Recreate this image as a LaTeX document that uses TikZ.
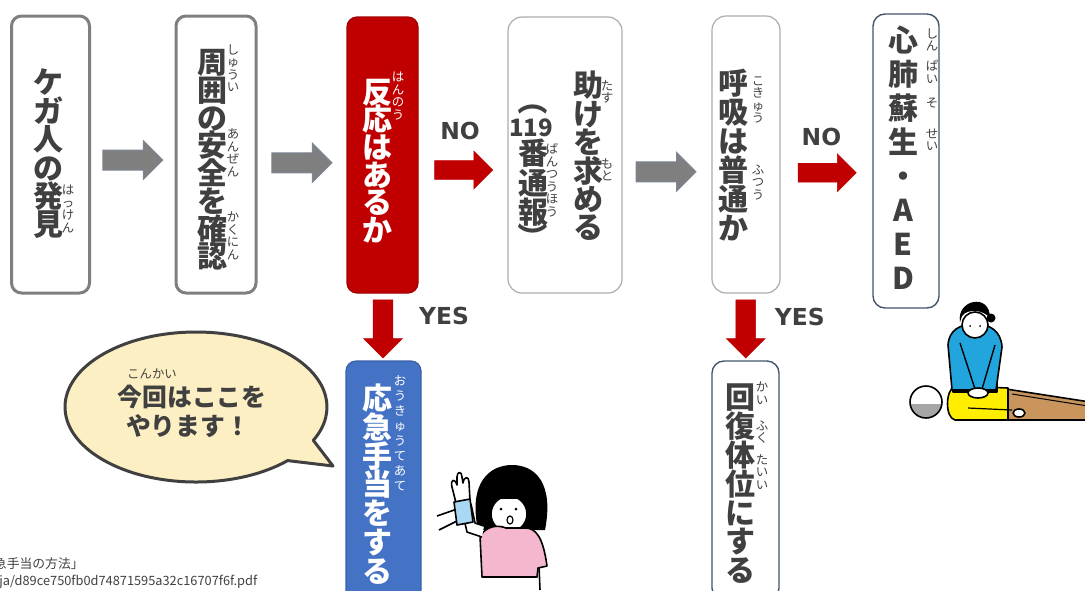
\documentclass[tikz,border=0pt]{standalone}
\usepackage{fontspec}
\usepackage{tikz}
\usetikzlibrary{calc,shapes.arrows}

\setmainfont{Noto Sans CJK JP}
\newfontfamily\tate{Noto Sans CJK JP}
\newfontfamily\yoko{Noto Sans CJK JP}
\newfontfamily\ansfont{DejaVu Sans}

% vertical text: one glyph per line, fixed pitch
\newcommand{\tatefont}[1]{\tate\bfseries\fontsize{15}{#1}\selectfont\lineskiplimit=-50pt}
\newcommand{\rubyfont}[1]{\tate\fontsize{6.2}{#1}\selectfont\lineskiplimit=-50pt}

\definecolor{ink}{HTML}{404040}
\definecolor{frame}{HTML}{7F7F7F}
\definecolor{alert}{HTML}{C00000}
\definecolor{aid}{HTML}{4472C4}
\definecolor{slate}{HTML}{44546A}
\definecolor{cream}{HTML}{FDEFC4}
\definecolor{topblue}{HTML}{22A5DC}
\definecolor{shirt}{HTML}{FFEE00}
\definecolor{pants}{HTML}{C9955C}
\definecolor{kneegray}{HTML}{7A7A7A}
\definecolor{girlpink}{HTML}{F5B7D0}
\definecolor{bandage}{HTML}{A9D8F5}

\tikzstyle{card} = [rectangle, draw=frame, line width=1.5pt, rounded corners=5pt]
\tikzstyle{thincard} = [rectangle, draw=gray!65, line width=0.6pt, rounded corners=7pt]
\tikzstyle{bluecard} = [rectangle, draw=slate, line width=0.7pt, rounded corners=6pt]
\tikzstyle{redcard} = [rectangle, fill=alert, draw=alert!85!black, line width=0.6pt, rounded corners=5pt]
\tikzstyle{aidcard} = [rectangle, fill=aid, draw=aid!85!black, line width=0.6pt, rounded corners=5pt]
\tikzstyle{tategaki} = [align=center, inner sep=0pt, text=ink, font={\tatefont{14.2pt}}]
\tikzstyle{ruby} = [align=center, inner sep=0pt, text=ink, font={\rubyfont{6.25pt}}]
\tikzstyle{grayarrow} = [single arrow, fill=frame, draw=slate!70, line width=0.5pt, inner xsep=0pt,
  inner ysep=4.75pt, minimum height=30pt, single arrow head extend=4.75pt]
\tikzstyle{redarrow} = [single arrow, fill=alert, draw=alert, line width=0.3pt, inner xsep=0pt,
  inner ysep=4.5pt, minimum height=29pt, single arrow head extend=4.75pt]
\tikzstyle{downarrow} = [redarrow, shape border rotate=270, inner xsep=4.75pt, inner ysep=0pt]
\tikzstyle{answer} = [text=ink, font=\ansfont\bfseries\fontsize{11.7}{12}\selectfont]
\tikzstyle{outline} = [draw=black, line width=0.8pt, line join=round]

\begin{document}
\begin{tikzpicture}[x=0.5pt, y=-0.5pt]
\useasboundingbox (0,0) rectangle (1085,590);

% cards along the top
\node[card, minimum width=39pt, minimum height=138.5pt] (find) at (50.5,154.5) {};
\node[card, minimum width=40pt, minimum height=138.5pt] (safety) at (216,154.5) {};
\node[redcard, minimum width=35.5pt, minimum height=138pt] (response) at (382.5,155) {};
\node[thincard, minimum width=57pt, minimum height=138pt] (help) at (565,155) {};
\node[thincard, minimum width=34pt, minimum height=138.5pt] (breath) at (746,154.5) {};
\node[bluecard, minimum width=33pt, minimum height=147pt] (cpr) at (906,161) {};
% cards below the YES arrows
\node[aidcard, minimum width=37.5pt, minimum height=119.5pt] (firstaid) at (383.5,480.5) {};
\node[bluecard, minimum width=33.5pt, minimum height=119.5pt] (recovery) at (745.5,480.5) {};

% texts of the cards
\node[tategaki] (findtxt) at (48,154) {ケ\\ガ\\人\\の\\発\\見};
\node[ruby] (findruby) at (68,209) {は\\っ\\け\\ん};
\node[tategaki, font={\tatefont{13.85pt}}] (safetytxt) at (212,160) {周\\囲\\の\\安\\全\\を\\確\\認};
\node[ruby] (safetyruby1) at (233,68) {し\\ゅ\\う\\い};
\node[ruby] (safetyruby2) at (233,153) {あ\\ん\\ぜ\\ん};
\node[ruby] (safetyruby3) at (233,236) {か\\く\\に\\ん};
\node[tategaki, text=white, font={\tatefont{13.8pt}}] (responsetxt) at (377,161) {反\\応\\は\\あ\\る\\か};
\node[ruby, text=white] (responseruby) at (398,96) {は\\ん\\の\\う};
\node[tategaki] (helptxt) at (588,156) {助\\け\\を\\求\\め\\る};
% the bracketed column beside it
\node[tategaki, rotate=-90] (callopen) at (533,100) {（};
\node[text=ink, inner sep=0pt, font=\tate\bfseries\fontsize{12}{12}\selectfont] (callnum) at (531,128) {119};
\node[tategaki, font={\tatefont{14.75pt}}] (calltxt) at (533,183) {番\\通\\報};
\node[tategaki, rotate=-90] (callclose) at (533,237) {）};
\node[ruby] (helpruby1) at (607,92) {た\\す};
\node[ruby] (helpruby2) at (607,170) {も\\と};
\node[ruby] (callruby) at (552,180) {ば\\ん\\つ\\う\\ほ\\う};
\node[tategaki, font={\tatefont{14.5pt}}] (breathtxt) at (733,155) {呼\\吸\\は\\普\\通\\か};
\node[ruby] (breathruby1) at (758,100) {こ\\き\\ゅ\\う};
\node[ruby] (breathruby2) at (758,182) {ふ\\つ\\う};
\node[tategaki, font={\tatefont{17pt}}] (cprtxt) at (903,158) {心\\肺\\蘇\\生\\・\\A\\E\\D};
\node[ruby] (cprruby1) at (932,40) {し\\ん};
\node[ruby] (cprruby2) at (932,72) {ぱ\\い};
\node[ruby] (cprruby3) at (932,103) {そ};
\node[ruby] (cprruby4) at (932,140) {せ\\い};
\node[tategaki, text=white, font={\tatefont{14.4pt}}] (firstaidtxt) at (377,484) {応\\急\\手\\当\\を\\す\\る};
\node[ruby, text=white, font={\rubyfont{7.5pt}}] (firstaidruby) at (400,433) {お\\う\\き\\ゅ\\う\\て\\あ\\て};
\node[tategaki, font={\tatefont{14.4pt}}] (recoverytxt) at (740,484) {回\\復\\体\\位\\に\\す\\る};
\node[ruby] (recoveryruby1) at (762,393) {か\\い};
\node[ruby] (recoveryruby2) at (762,432) {ふ\\く};
\node[ruby] (recoveryruby3) at (762,472) {た\\い\\い};

% block arrows between the cards
\node[grayarrow] (go1) at ($(find.east)!.5!(safety.west)+(-5,5.5)$) {};
\node[grayarrow] (go2) at ($(safety.east)!.5!(response.west)+(-5,8)$) {};
\node[redarrow] (no1) at ($(response.east)!.5!(help.west)+(-4,15)$) {};
\node[grayarrow] (go3) at ($(help.east)!.5!(breath.west)+(-6,17)$) {};
\node[redarrow] (no2) at ($(breath.east)!.5!(cpr.west)+(-4,15)$) {};
\node[downarrow] (yes1) at ($(response.south)!.5!(firstaid.north)+(0,-3)$) {};
\node[downarrow] (yes2) at ($(breath.south)!.5!(recovery.north)+(0,-3)$) {};
\node[answer] (nolabel1) at ($(no1)+(1,-39)$) {NO};
\node[answer] (nolabel2) at ($(no2)+(-1,-36)$) {NO};
\node[answer] (yeslabel1) at ($(yes1)+(61,-8)$) {YES};
\node[answer] (yeslabel2) at ($(yes2)+(54,-7)$) {YES};

% speech bubble
\coordinate (bc) at (196,407);
\coordinate (tip) at (333,466);
\draw[fill=cream, draw=ink, line width=1.5pt, line join=round]
  ($(bc)+(45.6:131 and 75)$) arc[start angle=45.6, end angle=386.4, x radius=131, y radius=75]
  -- (tip) -- cycle;
\node[text=ink, font=\yoko\fontsize{6.2}{7}\selectfont] (sayruby) at (152,374) {こんかい};
\node[text=ink, font=\yoko\bfseries\fontsize{12.4}{13}\selectfont] (say1) at (192,397) {今回はここを};
\node[text=ink, font=\yoko\bfseries\fontsize{12.4}{13}\selectfont] (say2) at (188,426) {やります！};

% source line, cut by the page edge
\node[anchor=east, inner sep=0pt, text=ink, font=\yoko\fontsize{6.4}{7}\selectfont] (src1) at (84,564) {急手当の方法」};
\node[anchor=west, inner sep=0pt, text=ink, font=\yoko\fontsize{6.4}{7}\selectfont] (src2) at (-1,582) {ja/d89ce750fb0d74871595a32c16707f6f.pdf};

% girl with a bandaged wrist
\draw[outline] (437,516) .. controls (447,512) .. (457,509);
\draw[outline] (439,530) .. controls (449,525) .. (459,520);
\fill[black] (478,530) .. controls (468,482) and (490,465) .. (512,465)
  .. controls (536,465) and (554,484) .. (545,530) -- cycle;
\draw[outline, fill=white] (509,514) circle (18);
\begin{scope}
  \clip (509,514) circle (18.5);
  \fill[black] (480,470) rectangle (540,499);
\end{scope}
\fill (501,509) circle (1.5) (516,509) circle (1.5);
\draw[outline, line width=0.6pt] (510,520) ellipse (3 and 4);
\draw[outline] (539,566) -- (540,590);
\draw[outline, fill=girlpink] (482,577) -- (480,536) .. controls (486,527) and (496,524) .. (506,528)
  -- (525,528) .. controls (536,528) and (543,537) .. (547,566) -- (538,568) -- (537,577) -- cycle;
\draw[outline, fill=white] (482,537) -- (467,532) -- (461,506) -- (471,504) -- (475,523) -- (484,526);
\draw[outline, fill=white] (456,503) -- (452,487) .. controls (450,479) and (455,478) .. (457,485)
  -- (457,477) .. controls (457,471) and (462,471) .. (462,477) -- (463,483)
  .. controls (464,476) and (469,476) .. (469,482) -- (470,501) -- cycle;
\draw[outline, fill=bandage] (454,502) -- (470,499) -- (473,522) -- (457,525) -- cycle;

% CPR scene
\draw[outline, fill=pants] (1006,389) -- (1090,402) -- (1090,420) -- (1006,420) -- cycle;
\draw[line width=0.5pt] (1012,394) -- (1088,406);
\draw[outline, fill=shirt] (1008,388) -- (955,386) .. controls (945,390) and (945,418) .. (955,420)
  -- (1008,420) -- cycle;
\draw[line width=0.6pt] (968,408) -- (1012,410);
\draw[outline, fill=white] (1019,413) ellipse (6 and 4);
\fill[white] (926,402) circle (16);
\begin{scope}
  \clip (926,402) circle (16);
  \fill[gray!70] (905,404) rectangle (945,420);
\end{scope}
\draw[outline] (926,402) circle (16);
\draw[outline, fill=kneegray] (953,370) rectangle (997,392);
\draw[outline, fill=topblue] (952,390) -- (948,345) .. controls (949,330) and (960,324) .. (975,324)
  .. controls (990,324) and (1001,331) .. (1002,347) -- (996,390) -- cycle;
\draw[line width=0.7pt] (960,343) -- (975,389) (995,345) -- (982,389);
\draw[outline, fill=white] (978,393) ellipse (10 and 5);
\draw[outline, fill=white] (975,325) circle (13);
\fill[black] (960,322) .. controls (956,300) and (990,292) .. (990,318)
  .. controls (984,310) and (968,308) .. (962,316) -- cycle;
\fill[black] (991,318) circle (4.5);
\fill (970,326) circle (1) (980,326) circle (1);
\end{tikzpicture}
\end{document}
